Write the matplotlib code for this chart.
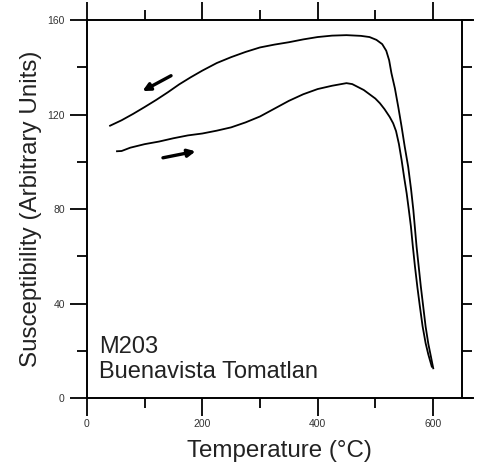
import numpy as np
import matplotlib
matplotlib.use("Agg")
import matplotlib.pyplot as plt
from matplotlib.ticker import MultipleLocator

plt.rcParams['font.family'] = ['Liberation Sans', 'DejaVu Sans']

# heating curve (lower, arrow to the right)
heat_t = [52, 60, 75, 100, 125, 150, 175, 200, 225, 250, 275, 300, 325, 350, 375, 400,
          425, 450, 460, 480, 500, 508, 516, 525, 531, 536, 541, 545.6, 550, 554.4, 558,
          561.8, 565, 568.8, 573, 577.4, 582, 587.3, 592, 598]
heat_k = [104.5, 104.6, 106.0, 107.5, 108.6, 110.0, 111.2, 112.0, 113.2, 114.6, 116.7,
          119.2, 122.5, 125.8, 128.6, 130.8, 132.2, 133.3, 132.9, 130.4, 126.8, 124.8,
          122.3, 119.0, 116.3, 113.0, 107.5, 100.8, 93.5, 86.7, 80.0, 72.6, 64.5, 55.7,
          47.0, 38.7, 30.5, 23.3, 18.5, 13.4]

# cooling curve (upper, arrow to the left)
cool_t = [40, 60, 80, 100, 120, 140, 160, 180, 200, 225, 250, 275, 300, 325, 350, 375,
          400, 425, 450, 475, 490, 502, 512, 519, 524, 528, 534, 540, 545.6, 551, 557, 562,
          566, 571.6, 579, 587.3, 592, 596.5, 600.5]
cool_k = [115.3, 117.6, 120.3, 123.2, 126.2, 129.4, 132.8, 135.8, 138.6, 141.8, 144.3,
          146.5, 148.4, 149.6, 150.6, 151.8, 152.8, 153.4, 153.6, 153.3, 152.8, 151.6,
          149.8, 147.0, 143.0, 137.5, 131.1, 123.0, 114.9, 106.5, 98.0, 88.5, 79.6, 64.1,
          47.2, 30.3, 23.0, 17.6, 12.7]

x_major = [0, 200, 400, 600]
y_major = [0, 40, 80, 120, 160]

fig = plt.figure(figsize=(4.78, 4.71), dpi=100)
ax = fig.add_axes([0.182, 0.1543, 0.807, 0.8032])

ax.plot(heat_t, heat_k, color='black', lw=1.3)
ax.plot(cool_t, cool_k, color='black', lw=1.3)

# direction arrows
arrow = dict(arrowstyle='-|>', color='black', lw=2.4, mutation_scale=11)
ax.annotate('', xy=(92, 129.4), xytext=(150, 137), arrowprops=arrow)
ax.annotate('', xy=(193, 104.7), xytext=(127, 101.5), arrowprops=arrow)

ax.text(21, 19.0, 'M203', fontsize=17, color='#222222', va='baseline')
ax.text(21, 8.6, 'Buenavista Tomatlan', fontsize=17, color='#222222', va='baseline')

ax.set_xlim(0, 669)
ax.set_ylim(0, 160)

ax.set_xticks(x_major)
ax.xaxis.set_minor_locator(MultipleLocator(100))
ax.set_yticks(y_major)
ax.yaxis.set_minor_locator(MultipleLocator(20))

ax.tick_params(axis='x', which='major', direction='out', length=13, width=1.3,
               top=True, labelsize=7.5, labelcolor='#333333', pad=2)
ax.tick_params(axis='x', which='minor', direction='out', length=7, width=1.3, top=True)
ax.tick_params(axis='y', which='major', direction='out', length=12, width=1.3,
               labelsize=7.5, labelcolor='#333333', pad=4)
ax.tick_params(axis='y', which='minor', direction='out', length=7, width=1.3)

for s in ['left', 'bottom', 'top']:
    ax.spines[s].set_linewidth(1.4)
ax.spines['right'].set_visible(False)

# right-hand axis stands a bit inside the end of the x axis
right = ax.secondary_yaxis(650 / 669)
right.set_yticks(y_major)
right.yaxis.set_minor_locator(MultipleLocator(20))
right.tick_params(which='both', direction='out', length=7, width=1.3, labelright=False)
right.spines['right'].set_linewidth(1.4)

ax.set_xlabel('Temperature (°C)', fontsize=17.4, color='#222222', labelpad=8)
ax.set_ylabel('Susceptibility (Arbitrary Units)', fontsize=17.4, color='#222222', labelpad=4)

fig.savefig('out.png', dpi=100)
